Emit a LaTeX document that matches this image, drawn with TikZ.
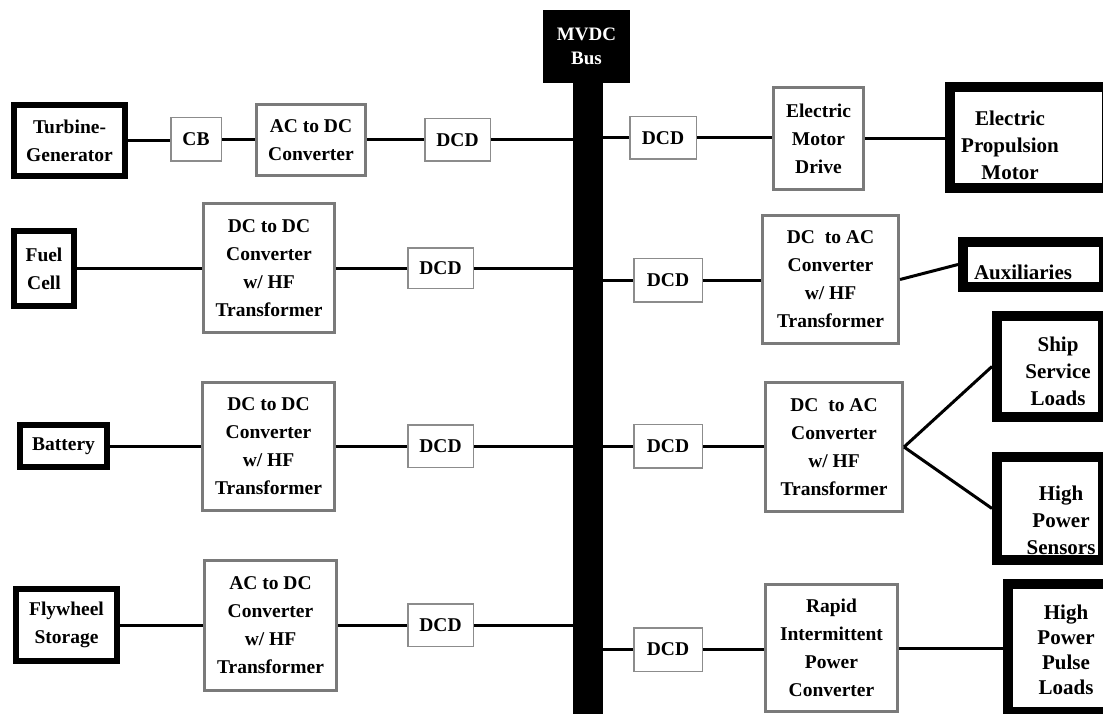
\documentclass[tikz,border=0pt]{standalone}
\usepackage{fontspec}
\setmainfont{Liberation Serif}
\definecolor{convgray}{HTML}{7A7A7A}
\definecolor{dcdgray}{HTML}{8C8C8C}
\begin{document}
\begin{tikzpicture}[x=1pt,y=-1pt,
  basebox/.style={rectangle,inner sep=0pt,align=center,fill=white,
    font=\bfseries\fontsize{19.5}{28}\selectfont},
  srcbox/.style={basebox,draw=black,line width=6pt},
  loadbox/.style={basebox,draw=black,line width=10pt},
  convbox/.style={basebox,draw=convgray,line width=3pt},
  dcdbox/.style={basebox,draw=dcdgray,line width=1.5pt},
  loadtext/.style={inner sep=0pt,align=center,font=\bfseries\fontsize{21}{27}\selectfont},
  busfill/.style={rectangle,inner sep=0pt,fill=black,draw=none},
  wire/.style={line width=3pt,draw=black}]
\fill[white] (0,0) rectangle (1103,714);
\clip (0,0) rectangle (1103,714);
% bus
\node[busfill,minimum width=87pt,minimum height=73pt,text=white,align=center,
  font=\bfseries\fontsize{19}{24}\selectfont] (buslabel) at (586.5,46.5) {\raisebox{-6pt}{\parbox{80pt}{\centering MVDC\\Bus}}};
\node[busfill,minimum width=30pt,minimum height=640pt] (bus) at (588,402) {};
% left column
\node[srcbox,minimum width=111pt,minimum height=71pt] (tg) at (69.5,140.5) {Turbine-\\Generator};
\node[dcdbox,minimum width=50.5pt,minimum height=43.5pt] (cb) at (196,139.5) {CB};
\node[convbox,minimum width=109pt,minimum height=71pt] (acdc1) at (311,140) {AC to DC\\Converter};
\node[dcdbox,minimum width=65.5pt,minimum height=42.5pt] (dcdL1) at (457.5,140) {DCD};
\node[srcbox,minimum width=60pt,minimum height=75pt] (fc) at (44,268.5) {Fuel\\Cell};
\node[convbox,minimum width=131pt,minimum height=129pt] (dcdc1) at (269,268) {DC to DC\\Converter\\w/ HF\\Transformer};
\node[dcdbox,minimum width=65.5pt,minimum height=40.5pt] (dcdL2) at (440.5,268) {DCD};
\node[srcbox,minimum width=87pt,minimum height=42pt] (bat) at (63.5,446) {Battery};
\node[convbox,minimum width=132pt,minimum height=128pt] (dcdc2) at (268.5,446.5) {DC to DC\\Converter\\w/ HF\\Transformer};
\node[dcdbox,minimum width=65.5pt,minimum height=42.5pt] (dcdL3) at (440.5,446) {DCD};
\node[srcbox,minimum width=101pt,minimum height=72pt] (fly) at (66.5,625) {Flywheel\\Storage};
\node[convbox,minimum width=132pt,minimum height=130pt] (acdc2) at (270.5,625.5) {AC to DC\\Converter\\w/ HF\\Transformer};
\node[dcdbox,minimum width=65.5pt,minimum height=42.5pt] (dcdL4) at (440.5,625) {DCD};
% right column
\node[dcdbox,minimum width=66.5pt,minimum height=42.5pt] (dcdR1) at (663,138) {DCD};
\node[convbox,minimum width=90pt,minimum height=102pt] (emd) at (818.5,138.5) {Electric\\Motor\\Drive};
\node[loadbox,minimum width=157pt,minimum height=101pt] (epm) at (1028.5,137.5) {};
\node[loadtext] (epmT) at (1010,145) {Electric\\Propulsion\\Motor};
\node[dcdbox,minimum width=68.5pt,minimum height=43.5pt] (dcdR2) at (668,280) {DCD};
\node[convbox,minimum width=136pt,minimum height=128pt] (dcac1) at (830.5,279.5) {DC\ \ to AC\\Converter\\w/ HF\\Transformer};
\node[loadbox,minimum width=141pt,minimum height=45pt] (aux) at (1033.5,264.5) {};
\node[loadtext] (auxT) at (1023,272) {Auxiliaries};
\node[loadbox,minimum width=106pt,minimum height=101pt] (ship) at (1050,366.5) {};
\node[loadtext] (shipT) at (1058,371) {Ship\\Service\\Loads};
\node[dcdbox,minimum width=68.5pt,minimum height=43.5pt] (dcdR3) at (668,446) {DCD};
\node[convbox,minimum width=137pt,minimum height=129pt] (dcac2) at (834,447) {DC\ \ to AC\\Converter\\w/ HF\\Transformer};
\node[loadbox,minimum width=106pt,minimum height=103pt] (hps) at (1050,508.5) {};
\node[loadtext] (hpsT) at (1061,520) {High\\Power\\Sensors};
\node[dcdbox,minimum width=68.5pt,minimum height=43.5pt] (dcdR4) at (668,649.5) {DCD};
\node[convbox,minimum width=132pt,minimum height=127pt] (ripc) at (831.5,648) {Rapid\\Intermittent\\Power\\Converter};
\node[loadbox,minimum width=100pt,minimum height=128pt] (hppl) at (1058,648) {};
\node[loadtext,font=\bfseries\fontsize{21}{25}\selectfont] (hpplT) at (1066,650) {High\\Power\\Pulse\\Loads};
% wires left
\draw[wire] (tg.east) -- (tg.east -| cb.west);
\draw[wire] (cb.east) -- (cb.east -| acdc1.west);
\draw[wire] (acdc1.east) -- (acdc1.east -| dcdL1.west);
\draw[wire] (dcdL1.east) -- (dcdL1.east -| bus.west);
\draw[wire] (fc.east) -- (fc.east -| dcdc1.west);
\draw[wire] (dcdc1.east) -- (dcdc1.east -| dcdL2.west);
\draw[wire] (dcdL2.east) -- (dcdL2.east -| bus.west);
\draw[wire] (bat.east) -- (bat.east -| dcdc2.west);
\draw[wire] (dcdc2.east) -- (dcdc2.east -| dcdL3.west);
\draw[wire] (dcdL3.east) -- (dcdL3.east -| bus.west);
\draw[wire] (fly.east) -- (fly.east -| acdc2.west);
\draw[wire] (acdc2.east) -- (acdc2.east -| dcdL4.west);
\draw[wire] (dcdL4.east) -- (dcdL4.east -| bus.west);
% wires right
\draw[wire] (bus.east |- dcdR1.west) -- (dcdR1.west);
\draw[wire] (dcdR1.east) -- (dcdR1.east -| emd.west);
\draw[wire] (emd.east) -- (emd.east -| epm.west);
\draw[wire] (bus.east |- dcdR2.west) -- (dcdR2.west);
\draw[wire] (dcdR2.east) -- (dcdR2.east -| dcac1.west);
\draw[wire] (dcac1.east) -- (aux.west);
\draw[wire] (bus.east |- dcdR3.west) -- (dcdR3.west);
\draw[wire] (dcdR3.east) -- (dcdR3.east -| dcac2.west);
\draw[wire] (dcac2.east) -- (ship.west);
\draw[wire] (dcac2.east) -- (hps.west);
\draw[wire] (bus.east |- dcdR4.west) -- (dcdR4.west);
\draw[wire] (dcdR4.east) -- (dcdR4.east -| ripc.west);
\draw[wire] (ripc.east) -- (ripc.east -| hppl.west);
\end{tikzpicture}
\end{document}
